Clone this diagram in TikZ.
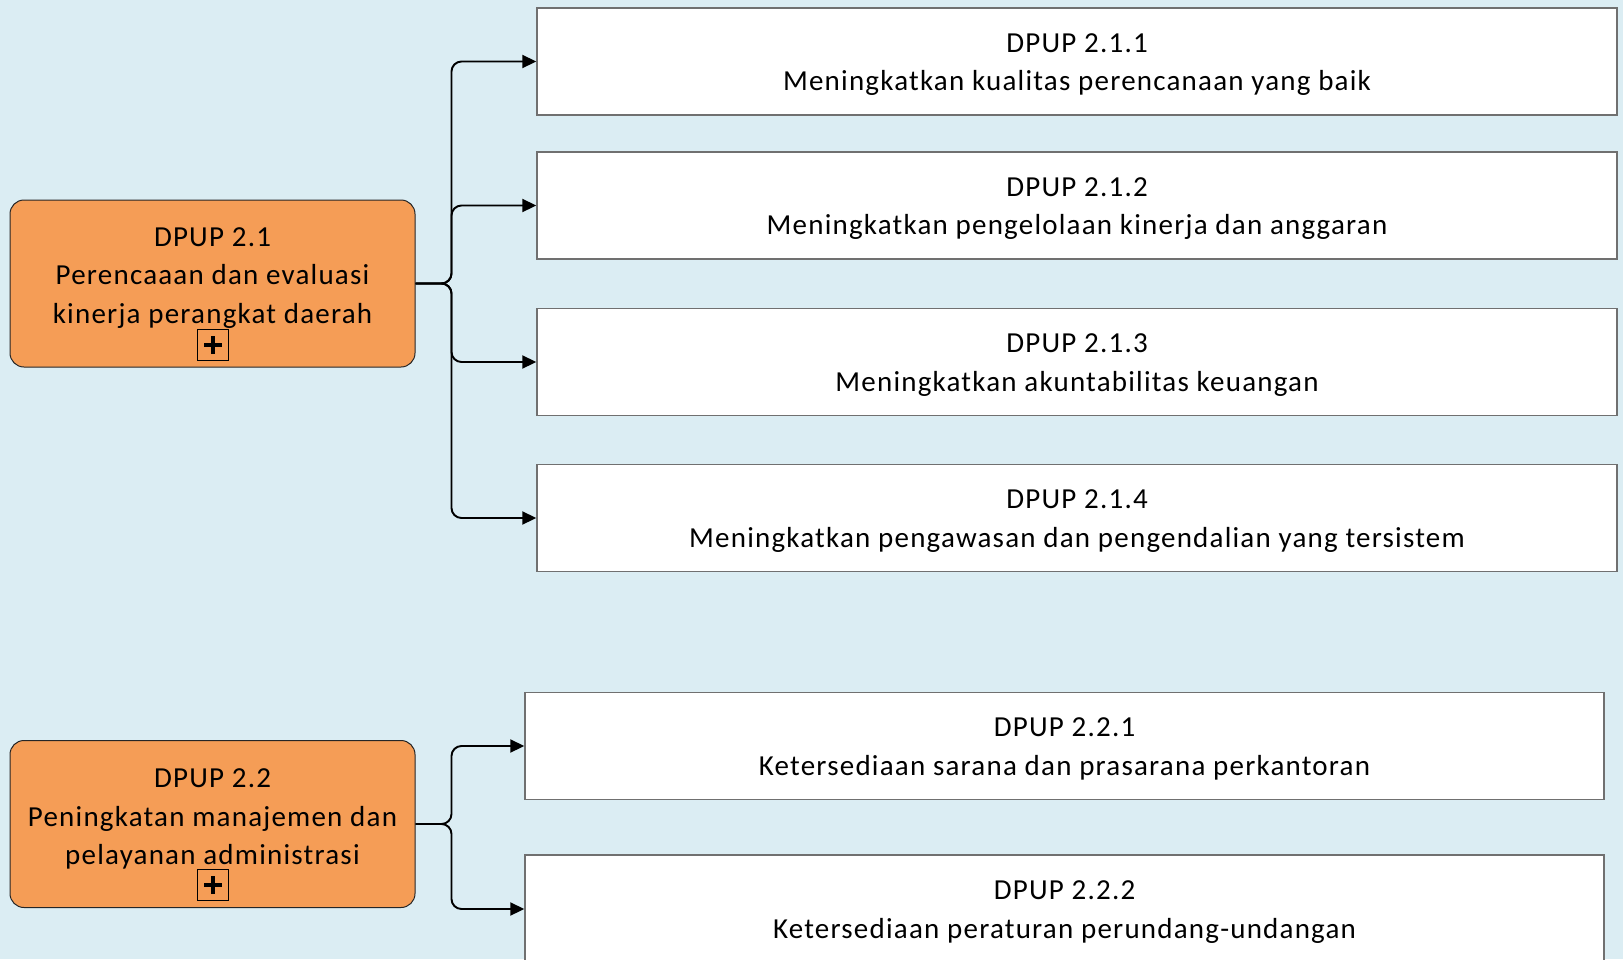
\documentclass[tikz,border=0pt]{standalone}
\usepackage{fontspec}
\setmainfont{Carlito}[LetterSpace=4.2]
\usetikzlibrary{arrows.meta}
\definecolor{bgc}{HTML}{DBEDF3}
\definecolor{orng}{HTML}{F59D56}
\definecolor{bord}{HTML}{707070}
\newcommand{\tstr}{\rule{0pt}{25pt}}
\begin{document}
\begin{tikzpicture}[x=1pt,y=-1pt,
 txt/.style={font=\fontsize{29}{38.5}\selectfont, align=center, inner sep=0pt},
 target/.style={draw=bord, line width=1.4pt, fill=white, minimum width=1080pt, minimum height=107pt, txt},
 parent/.style={draw=black!85, line width=1pt, fill=orng, rounded corners=14pt, minimum width=405pt, minimum height=167pt, inner sep=0pt},
 conn/.style={line width=1.9pt, rounded corners=10pt, -{Triangle[length=14pt,width=13pt]}},
 plusbox/.style={draw=black, line width=1.9pt, minimum size=31pt, inner sep=0pt},
 plusbar/.style={line width=3.8pt}
]
\fill[bgc] (0,0) rectangle (1623,959);
\useasboundingbox (0,0) rectangle (1623,959);

% parents
\node[parent] (p1) at (212.5,283.5) {};
\node[txt] (t1) at (212.5,278) {DPUP 2.1\\Perencaaan dan evaluasi\\kinerja perangkat daerah};
\node[plusbox] (x1) at (213,345) {};
\draw[plusbar] ([xshift=-9pt]x1.center) -- ([xshift=9pt]x1.center);
\draw[plusbar] ([yshift=-9pt]x1.center) -- ([yshift=9pt]x1.center);

\node[parent] (p2) at (212.5,824) {};
\node[txt] (t2) at (212.5,819) {DPUP 2.2\\Peningkatan manajemen dan\\pelayanan administrasi};
\node[plusbox] (x2) at (213,885) {};
\draw[plusbar] ([xshift=-9pt]x2.center) -- ([xshift=9pt]x2.center);
\draw[plusbar] ([yshift=-9pt]x2.center) -- ([yshift=9pt]x2.center);

% targets
\node[target] (c1) at (1077,61.5) {\tstr DPUP 2.1.1\\Meningkatkan kualitas perencanaan yang baik};
\node[target] (c2) at (1077,205.5) {\tstr DPUP 2.1.2\\Meningkatkan pengelolaan kinerja dan anggaran};
\node[target] (c3) at (1077,362) {\tstr DPUP 2.1.3\\Meningkatkan akuntabilitas keuangan};
\node[target] (c4) at (1077,518) {\tstr DPUP 2.1.4\\Meningkatkan pengawasan dan pengendalian yang tersistem};
\node[target, minimum width=1079pt] (d1) at (1064.5,746) {\tstr DPUP 2.2.1\\Ketersediaan sarana dan prasarana perkantoran};
\node[target, minimum width=1079pt, minimum height=108pt] (d2) at (1064.5,909) {\tstr DPUP 2.2.2\\Ketersediaan peraturan perundang-undangan};

% connectors
\foreach \c in {c1,c2,c3,c4}{
  \draw[conn] (p1.east) -- ++(36,0) |- (\c.west);
}
\foreach \d in {d1,d2}{
  \draw[conn] (p2.east) -- ++(36,0) |- (\d.west);
}
\end{tikzpicture}
\end{document}
